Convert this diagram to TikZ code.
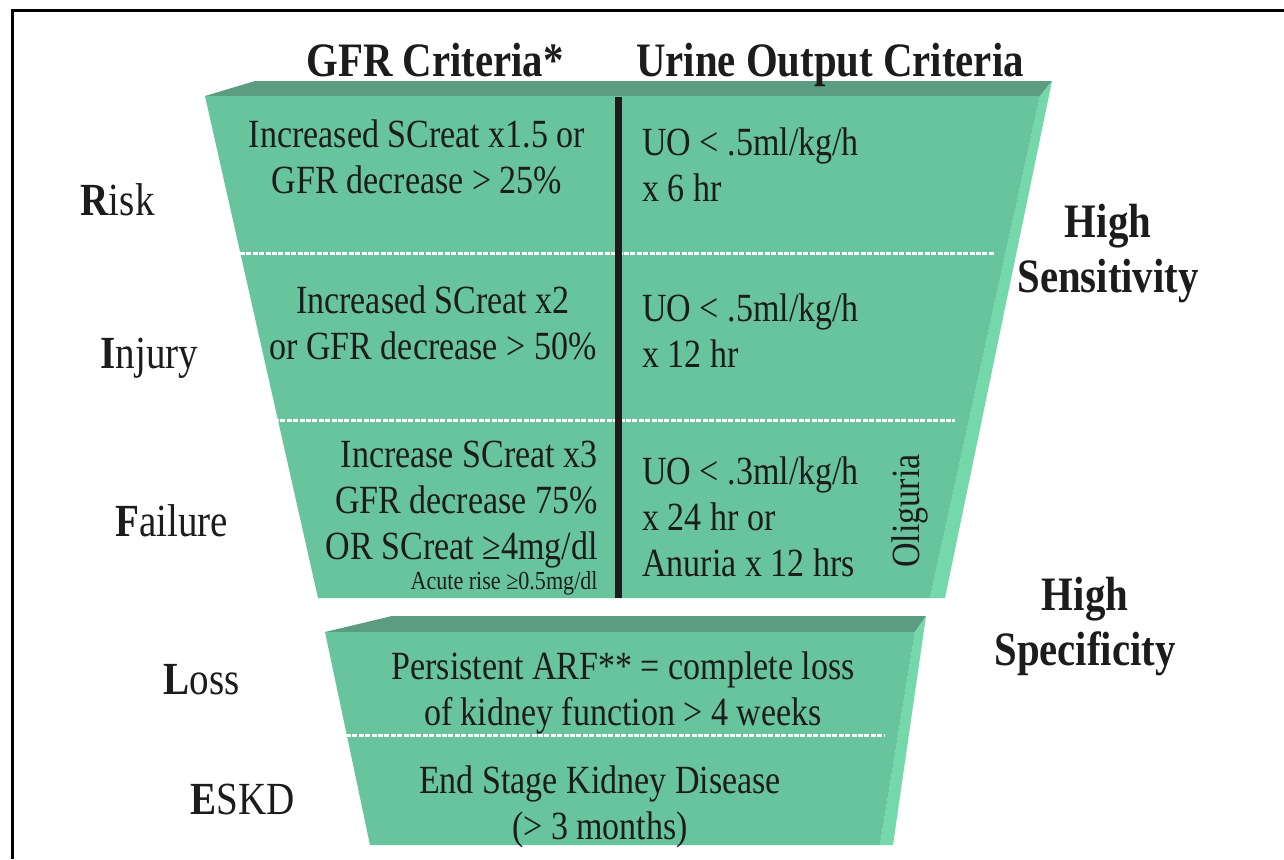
\documentclass[tikz,border=0pt]{standalone}
\usepackage{fontspec}
\setmainfont{Liberation Serif}[FakeStretch=0.85]
\definecolor{frontc}{RGB}{104,196,156}
\definecolor{topc}{RGB}{92,156,128}
\definecolor{sidec}{RGB}{116,216,170}
\definecolor{ink}{RGB}{28,28,28}
\begin{document}
\begin{tikzpicture}[x=0.5pt,y=-0.5pt,
  body/.style={font=\fontsize{20}{23}\selectfont, inner sep=0pt, text=ink},
  small/.style={font=\fontsize{13}{15}\selectfont, inner sep=0pt, text=ink},
  stage/.style={font=\fontsize{23}{27}\selectfont, inner sep=0pt, anchor=base west, text=ink},
  head/.style={font=\fontsize{24}{28}\bfseries\selectfont, inner sep=0pt, anchor=base, text=ink},
  sens/.style={font=\fontsize{24}{27.5}\bfseries\selectfont, inner sep=0pt, anchor=north, align=center, text=ink},
  sep/.style={white, line width=1.5pt, dash pattern=on 2.5pt off 0.7pt},
  divider/.style={draw=ink, line width=3.5pt}
]
\useasboundingbox (0,0) rectangle (1284,859);
\fill[white] (0,0) rectangle (1284,859);
% frame
\draw[black, line width=1.5pt] (12,859) -- (12,10) -- (1284,10);

% upper block
\fill[topc] (205,96) -- (255,81) -- (1052,81) -- (1040,96) -- cycle;
\fill[sidec] (1040,96) -- (1052,81) -- (945,598) -- (930,598) -- cycle;
\fill[frontc] (205,96) -- (1040,96) -- (930,598) -- (318,598) -- cycle;
\draw[sep] (240,253) -- (995,253);
\draw[sep] (274,420) -- (955,420);
\coordinate (dtop) at (618,97);
\coordinate (dbot) at (618,598);
\draw[divider] (dtop) -- (dbot);

% lower block
\fill[topc] (325,632) -- (392,616) -- (926,616) -- (915,632) -- cycle;
\fill[sidec] (915,632) -- (926,616) -- (893,845) -- (880,845) -- cycle;
\fill[frontc] (325,632) -- (915,632) -- (880,845) -- (370,845) -- cycle;
\draw[sep] (346,735) -- (885,735);

% headers
\node[head] (hgfr) at (435,76) {GFR Criteria*};
\node[head] (huo) at (830,76) {Urine Output Criteria};

% stage labels
\node[stage] (risk) at (80,215) {\textbf{R}isk};
\node[stage] (injury) at (100,368) {\textbf{I}njury};
\node[stage] (failure) at (115,536) {\textbf{F}ailure};
\node[stage] (loss) at (163,694) {\textbf{L}oss};
\node[stage] (eskd) at (190,814) {\textbf{E}SKD};

% GFR criteria
\node[body, anchor=north, align=center] (g1) at (417,119) {Increased SCreat x1.5 or\\GFR decrease > 25\%};
\node[body, anchor=north, align=center] (g2) at (433,285) {Increased SCreat x2\\or GFR decrease > 50\%};
\node[body, anchor=north east, align=right] (g3) at (598,441) {Increase SCreat x3\\GFR decrease 75\%\\OR SCreat ≥4mg/dl};
\node[small, anchor=north east] (g3s) at (598,571) {Acute rise ≥0.5mg/dl};

% urine output criteria
\node[body, anchor=north west, align=left] (u1) at (642,127) {UO < .5ml/kg/h\\x 6 hr};
\node[body, anchor=north west, align=left] (u2) at (642,293) {UO < .5ml/kg/h\\x 12 hr};
\node[body, anchor=north west, align=left] (u3) at (642,456) {UO < .3ml/kg/h\\x 24 hr or\\Anuria x 12 hrs};
\node[body, rotate=90] (olig) at (910,511) {Oliguria};

% lower block texts
\node[body, anchor=north, align=center] (lossT) at (623,651) {Persistent ARF** = complete loss\\of kidney function > 4 weeks};
\node[body, anchor=north, align=center] (eskdT) at (600,765) {End Stage Kidney Disease\\(> 3 months)};

% right labels
\node[sens] (hsens) at (1108,204) {High\\Sensitivity};
\node[sens] (hspec) at (1085,577) {High\\Specificity};
\end{tikzpicture}
\end{document}
